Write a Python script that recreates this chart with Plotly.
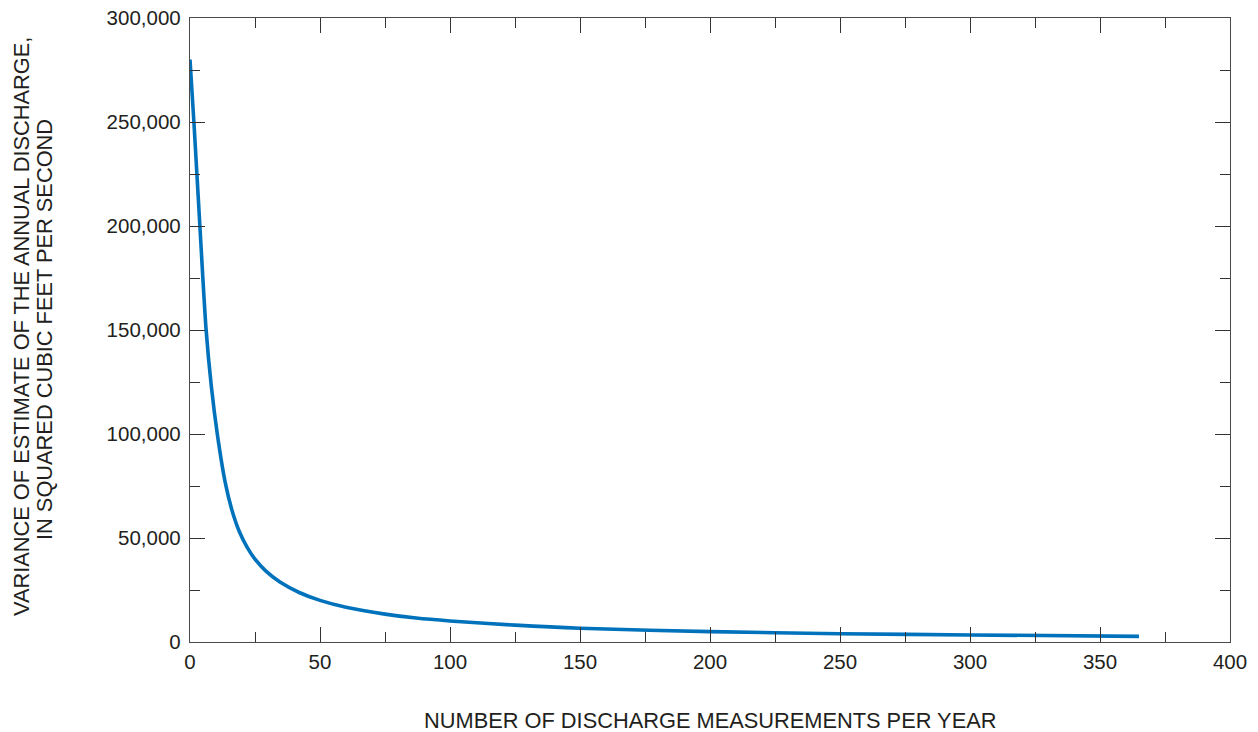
import plotly.graph_objects as go

# Data
measurements = [0, 1.5, 3.8, 6.2, 8.2, 10.5, 13.5, 16, 19, 22, 25, 29, 34.6, 42,
                50, 60, 75, 87, 100, 125, 150, 200, 250, 300, 365]
variance = [280000, 250000, 200000, 150000, 123000, 100000, 77000, 64000, 53000,
            45500, 39800, 34300, 28800, 23800, 20000, 16700, 13400, 11500, 10100,
            8100, 6600, 5000, 4000, 3400, 2700]

x_ticks = [0, 50, 100, 150, 200, 250, 300, 350, 400]
y_ticks = [0, 50000, 100000, 150000, 200000, 250000, 300000]

W, H = 1258, 732
L, R, T, B = 190, 28, 18, 90
pw, ph = W - L - R, H - T - B

FONT = "Liberation Sans, Arial, sans-serif"
TXT = "#231f20"

fig = go.Figure()
fig.add_trace(go.Scatter(
    x=measurements, y=variance, mode="lines",
    line=dict(color="#0072BC", width=3.6, shape="spline", smoothing=0.8),
    showlegend=False, hoverinfo="skip"))

axis_common = dict(
    showgrid=False, zeroline=False, showline=True, linecolor="#4a4a4a",
    linewidth=1.4, mirror="ticks", ticks="inside", ticklen=15, tickwidth=1.3,
    tickcolor="#333333", automargin=False,
    tickfont=dict(family=FONT, size=20.5, color=TXT),
)

fig.update_xaxes(range=[0, 400], tickvals=x_ticks, ticklabelstandoff=1,
                 minor=dict(dtick=25, tick0=0, ticks="inside", ticklen=10,
                            tickwidth=1.3, tickcolor="#333333"),
                 **axis_common)
fig.update_yaxes(range=[0, 300000], tickvals=y_ticks, tickformat=",",
                 ticklabelstandoff=4,
                 minor=dict(dtick=25000, tick0=0, ticks="inside", ticklen=10,
                            tickwidth=1.3, tickcolor="#333333"),
                 **axis_common)

title_font = dict(family=FONT, size=21.8, color=TXT)
fig.add_annotation(
    text="VARIANCE OF ESTIMATE OF THE ANNUAL DISCHARGE,",
    xref="paper", yref="paper", x=-(L - 21) / pw, y=(H - B - 327) / ph, textangle=-90,
    xanchor="center", yanchor="middle", showarrow=False, font=title_font)
fig.add_annotation(
    text="IN SQUARED CUBIC FEET PER SECOND",
    xref="paper", yref="paper", x=-(L - 44) / pw, y=(H - B - 330) / ph, textangle=-90,
    xanchor="center", yanchor="middle", showarrow=False, font=title_font)
fig.add_annotation(
    text="NUMBER OF DISCHARGE MEASUREMENTS PER YEAR",
    xref="paper", yref="paper", x=(710 - L) / pw, y=-(720 - (H - B)) / ph,
    xanchor="center", yanchor="middle", showarrow=False, font=title_font)

fig.update_layout(
    width=W, height=H, margin=dict(l=L, r=R, t=T, b=B),
    paper_bgcolor="white", plot_bgcolor="white",
)

fig.write_html("out.html")
